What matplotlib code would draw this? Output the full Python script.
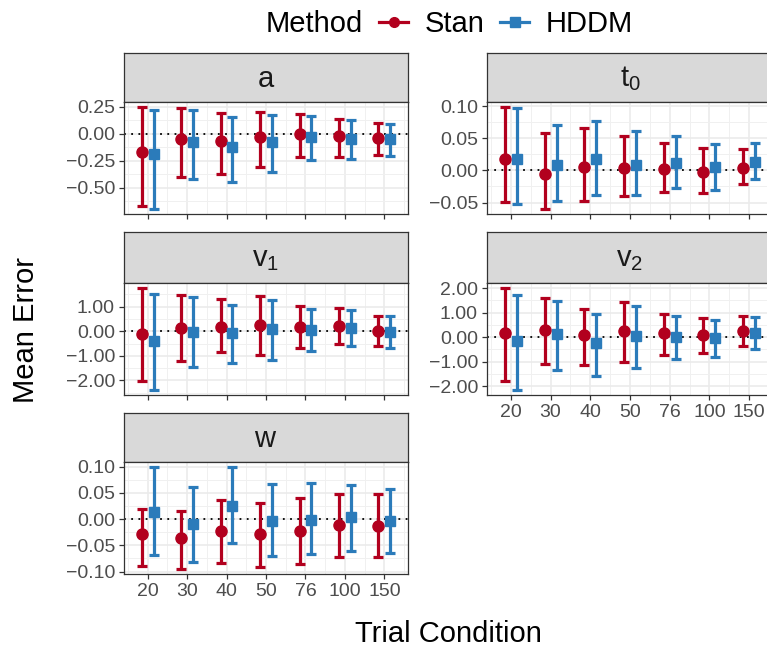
import matplotlib
matplotlib.use("Agg")
import matplotlib.pyplot as plt
import numpy as np
from matplotlib.lines import Line2D

plt.rcParams['font.family'] = ['Liberation Sans', 'DejaVu Sans']
plt.rcParams['mathtext.fontset'] = 'custom'
plt.rcParams['mathtext.rm'] = 'Liberation Sans'
plt.rcParams['mathtext.it'] = 'Liberation Sans:italic'

conditions = ['20', '30', '40', '50', '76', '100', '150']
methods = ['Stan', 'HDDM']
colors = {'Stan': '#B2001E', 'HDDM': '#2B7BBA'}
markers = {'Stan': 'o', 'HDDM': 's'}

panels = ['a', 't0', 'v1', 'v2', 'w']
titles = {'a': r'$\mathrm{a}$', 't0': r'$\mathrm{t}_0$', 'v1': r'$\mathrm{v}_1$',
          'v2': r'$\mathrm{v}_2$', 'w': r'$\mathrm{w}$'}

# mean, lower, upper per parameter and method
a_stan_mean = [-0.169, -0.052, -0.067, -0.031, 0.000, -0.021, -0.043]
a_stan_lo = [-0.666, -0.399, -0.368, -0.307, -0.212, -0.215, -0.196]
a_stan_hi = [0.248, 0.236, 0.196, 0.202, 0.184, 0.138, 0.098]
a_hddm_mean = [-0.190, -0.074, -0.120, -0.074, -0.031, -0.046, -0.052]
a_hddm_lo = [-0.696, -0.423, -0.442, -0.356, -0.242, -0.233, -0.206]
a_hddm_hi = [0.221, 0.221, 0.160, 0.175, 0.166, 0.126, 0.089]

t0_stan_mean = [0.0175, -0.0057, 0.0057, 0.004, 0.002, -0.002, 0.004]
t0_stan_lo = [-0.049, -0.060, -0.047, -0.040, -0.033, -0.035, -0.021]
t0_stan_hi = [0.099, 0.058, 0.066, 0.054, 0.043, 0.035, 0.033]
t0_hddm_mean = [0.0186, 0.0093, 0.0175, 0.0093, 0.012, 0.006, 0.014]
t0_hddm_lo = [-0.053, -0.047, -0.039, -0.039, -0.028, -0.031, -0.013]
t0_hddm_hi = [0.097, 0.071, 0.077, 0.062, 0.054, 0.042, 0.043]

v1_stan_mean = [-0.11, 0.14, 0.19, 0.26, 0.16, 0.20, 0.03]
v1_stan_lo = [-2.03, -1.20, -0.86, -0.96, -0.68, -0.51, -0.58]
v1_stan_hi = [1.76, 1.47, 1.30, 1.43, 1.01, 0.95, 0.64]
v1_hddm_mean = [-0.38, -0.04, -0.08, 0.09, 0.07, 0.14, -0.01]
v1_hddm_lo = [-2.39, -1.47, -1.30, -1.16, -0.82, -0.62, -0.69]
v1_hddm_hi = [1.50, 1.38, 1.07, 1.28, 0.89, 0.85, 0.61]

v2_stan_mean = [0.18, 0.30, 0.08, 0.24, 0.15, 0.08, 0.24]
v2_stan_lo = [-1.77, -1.08, -1.12, -1.01, -0.72, -0.66, -0.38]
v2_stan_hi = [2.00, 1.61, 1.16, 1.42, 0.95, 0.80, 0.85]
v2_hddm_mean = [-0.16, 0.14, -0.23, 0.05, 0.00, -0.04, 0.18]
v2_hddm_lo = [-2.15, -1.34, -1.58, -1.26, -0.91, -0.80, -0.47]
v2_hddm_hi = [1.72, 1.49, 0.95, 1.28, 0.86, 0.70, 0.82]

w_stan_mean = [-0.028, -0.037, -0.023, -0.028, -0.022, -0.012, -0.013]
w_stan_lo = [-0.090, -0.095, -0.083, -0.092, -0.085, -0.072, -0.072]
w_stan_hi = [0.020, 0.015, 0.037, 0.030, 0.040, 0.048, 0.048]
w_hddm_mean = [0.013, -0.010, 0.025, -0.003, -0.001, 0.003, -0.004]
w_hddm_lo = [-0.068, -0.082, -0.046, -0.071, -0.066, -0.061, -0.065]
w_hddm_hi = [0.099, 0.062, 0.099, 0.066, 0.069, 0.065, 0.058]

data = {
    'a': {'Stan': (a_stan_mean, a_stan_lo, a_stan_hi), 'HDDM': (a_hddm_mean, a_hddm_lo, a_hddm_hi)},
    't0': {'Stan': (t0_stan_mean, t0_stan_lo, t0_stan_hi), 'HDDM': (t0_hddm_mean, t0_hddm_lo, t0_hddm_hi)},
    'v1': {'Stan': (v1_stan_mean, v1_stan_lo, v1_stan_hi), 'HDDM': (v1_hddm_mean, v1_hddm_lo, v1_hddm_hi)},
    'v2': {'Stan': (v2_stan_mean, v2_stan_lo, v2_stan_hi), 'HDDM': (v2_hddm_mean, v2_hddm_lo, v2_hddm_hi)},
    'w': {'Stan': (w_stan_mean, w_stan_lo, w_stan_hi), 'HDDM': (w_hddm_mean, w_hddm_lo, w_hddm_hi)},
}
yticks = {
    'a': [-0.5, -0.25, 0, 0.25],
    't0': [-0.05, 0, 0.05, 0.10],
    'v1': [-2, -1, 0, 1],
    'v2': [-2, -1, 0, 1, 2],
    'w': [-0.10, -0.05, 0, 0.05, 0.10],
}

W, H = 767, 653
fig = plt.figure(figsize=(W / 100, H / 100), dpi=100)

# layout in pixels: (left, right), (strip top, panel top, panel bottom)
cols = [(124, 408), (487, 773)]
rows = [(53, 102, 214), (232, 283, 395), (413, 462, 574)]
place = {'a': (0, 0), 't0': (0, 1), 'v1': (1, 0), 'v2': (1, 1), 'w': (2, 0)}
bottom_panels = ['v2', 'w']

def rect(x0, x1, y0, y1):
    return [x0 / W, 1 - y1 / H, (x1 - x0) / W, (y1 - y0) / H]

border = '#333333'
x = np.arange(1, len(conditions) + 1)
dodge = 0.15

for p in panels:
    r, c = place[p]
    x0, x1 = cols[c]
    st, pt, pb = rows[r]

    sax = fig.add_axes(rect(x0, x1, st, pt))
    sax.set_facecolor('#D9D9D9')
    sax.set_xticks([])
    sax.set_yticks([])
    for s in sax.spines.values():
        s.set_color(border)
        s.set_linewidth(0.9)
    sax.text(0.5, 0.47, titles[p], ha='center', va='center', fontsize=21,
             color='#1A1A1A', transform=sax.transAxes)

    ax = fig.add_axes(rect(x0, x1, pt, pb))
    ax.set_facecolor('white')
    allv = []
    for i, m in enumerate(methods):
        mean, lo, hi = (np.array(v) for v in data[p][m])
        allv += list(lo) + list(hi)
        xx = x + (-dodge if i == 0 else dodge)
        ax.errorbar(xx, mean, yerr=[mean - lo, hi - mean], fmt=markers[m],
                    color=colors[m], ms=8 if m == 'Stan' else 7.5, elinewidth=2.3,
                    capsize=3.3, capthick=2.3, zorder=3 + i)
    ax.axhline(0, color='black', lw=1.3, ls=(0, (1, 3)), zorder=2)

    step = yticks[p][1] - yticks[p][0]
    ax.set_yticks(yticks[p])
    ax.set_yticklabels([('%.2f' % v).replace('-', '\u2212') for v in yticks[p]])
    ax.set_yticks([v + step / 2 for v in yticks[p]] + [yticks[p][0] - step / 2], minor=True)
    ax.set_xticks(x)
    ax.set_xticks(np.arange(0.5, 8, 1.0), minor=True)
    if p in bottom_panels:
        ax.set_xticklabels(conditions)
    else:
        ax.set_xticklabels([])
        ax.tick_params(axis='x', which='major', length=0)

    # limits after ticks so the minor ticks do not widen them
    lo_, hi_ = min(allv), max(allv)
    pad = (hi_ - lo_) * 0.05
    ax.set_ylim(lo_ - pad, hi_ + pad)
    ax.set_xlim(0.4, 7.6)

    ax.grid(True, which='major', color='#EBEBEB', lw=1.2, zorder=0)
    ax.grid(True, which='minor', color='#F0F0F0', lw=0.7, zorder=0)
    ax.set_axisbelow(True)
    ax.tick_params(which='minor', length=0)
    ax.tick_params(which='major', colors=border, labelcolor='#4D4D4D',
                   labelsize=14, length=3.3, width=0.9, pad=3.2)
    for s in ax.spines.values():
        s.set_color(border)
        s.set_linewidth(0.9)

# axis titles
fig.text(26 / W, 1 - 330 / H, 'Mean Error', rotation=90, ha='center', va='center',
         fontsize=21, color='black')
fig.text(448 / W, 1 - 634 / H, 'Trial Condition', ha='center', va='center',
         fontsize=21, color='black')

# legend
handles = [Line2D([], [], color=colors[m], marker=markers[m], lw=2.3,
                  ms=7 if m == 'Stan' else 6.5) for m in methods]
fig.text(363 / W, 1 - 24 / H, 'Method', ha='right', va='center', fontsize=21)
fig.legend(handles, methods, loc='center left', bbox_to_anchor=(379 / W, 1 - 24 / H),
           ncol=2, frameon=False, fontsize=21, handlelength=1.0,
           handletextpad=0.55, columnspacing=0.55, borderpad=0, borderaxespad=0)

fig.savefig('out.png', dpi=100)
